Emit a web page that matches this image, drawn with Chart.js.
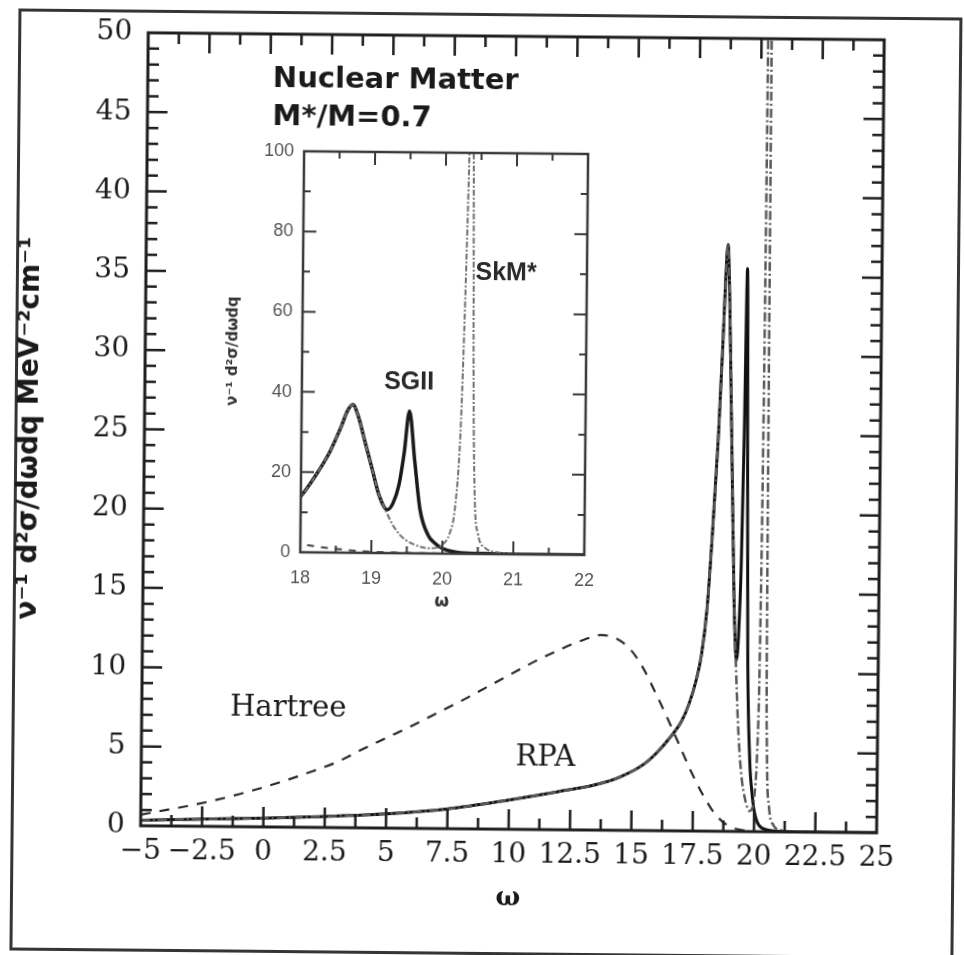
<!DOCTYPE html>
<html>
<head>
<meta charset="utf-8">
<script src="https://cdn.jsdelivr.net/npm/chart.js@4.4.1/dist/chart.umd.min.js"></script>
<style>
  html, body { margin: 0; padding: 0; background: #fff; overflow: hidden; }
  #page { position: relative; width: 964px; height: 955px; transform: rotate(0.55deg); transform-origin: 50% 50%; }
  #frame { position: absolute; left: 14px; top: 13px; width: 944px; height: 942px; border: 3px solid #353535; box-sizing: border-box; }
  #mainChart { position: absolute; left: 0; top: 0; }
  #insetChart { position: absolute; left: 200px; top: 130px; }
</style>
</head>
<body>
<div id="page">
  <div id="frame"></div>
  <canvas id="mainChart" width="964" height="955"></canvas>
  <canvas id="insetChart" width="410" height="490"></canvas>
</div>
<script>
// 데이터: ω 값과 각 곡선의 세기
const omegaSGII = [-5, -2.5, 0, 2.5, 5, 7.5, 10, 12, 13.5, 14.5, 15.5, 16, 16.5, 17, 17.3, 17.6, 17.8, 18, 18.2, 18.4, 18.55, 18.65, 18.72, 18.8, 18.9, 19, 19.1, 19.22, 19.3, 19.38, 19.45, 19.52, 19.6, 19.68, 19.8, 19.9, 20, 20.2, 20.6, 21, 22, 25];
const rpaSGII = [0.35, 0.45, 0.55, 0.7, 0.9, 1.25, 1.85, 2.4, 2.85, 3.35, 4.2, 4.9, 5.8, 6.9, 8.0, 9.6, 11.2, 14, 19, 25, 31, 35.5, 37, 34, 27.5, 21, 14.5, 10.8, 12.5, 17, 25, 35.5, 23, 11, 4.5, 2.5, 1.3, 0.4, 0.1, 0.03, 0, 0];

const omegaSkM = [-5, -2.5, 0, 2.5, 5, 7.5, 10, 12, 13.5, 14.5, 15.5, 16, 16.5, 17, 17.3, 17.6, 17.8, 18, 18.2, 18.4, 18.55, 18.65, 18.72, 18.8, 18.9, 19, 19.1, 19.2, 19.3, 19.4, 19.5, 19.6, 19.7, 19.8, 19.9, 20, 20.1, 20.17, 20.24, 20.29, 20.33, 20.36, 20.39, 20.42, 20.45, 20.5, 20.6, 20.8, 21, 22, 25];
const rpaSkM = [0.35, 0.45, 0.55, 0.7, 0.9, 1.25, 1.85, 2.4, 2.85, 3.35, 4.2, 4.9, 5.8, 6.9, 8.0, 9.6, 11.2, 14, 19, 25, 31, 35.5, 37, 34, 27.5, 21, 14.5, 10.5, 7, 4.6, 3.1, 2.2, 1.6, 1.3, 1.4, 2.2, 5, 11, 30, 64, 100, 130, 100, 40, 14, 5, 1.6, 0.4, 0.15, 0, 0];

const omegaHartree = [-5, -4, -3, -2, -1, 0, 1, 2, 3, 4, 5, 6, 7, 8, 9, 10, 11, 12, 13, 13.7, 14.3, 14.9, 15.4, 15.9, 16.4, 16.9, 17.4, 17.9, 18.4, 18.9, 19.4, 20];
const hartree = [0.7, 1.0, 1.3, 1.65, 2.05, 2.5, 3.0, 3.55, 4.15, 4.95, 5.7, 6.45, 7.25, 8.05, 8.9, 9.75, 10.6, 11.35, 12.0, 12.3, 12.1, 11.4, 10.3, 8.8, 7.2, 5.5, 3.8, 2.3, 1.1, 0.4, 0.12, 0.02];

// 눈금 라벨
const mainXTicks = [-5, -2.5, 0, 2.5, 5, 7.5, 10, 12.5, 15, 17.5, 20, 22.5, 25];
const mainYTicks = [0, 5, 10, 15, 20, 25, 30, 35, 40, 45, 50];
const insetXTicks = [18, 19, 20, 21, 22];
const insetYTicks = [0, 20, 40, 60, 80, 100];

function pts(xs, ys) {
    return xs.map((v, i) => ({ x: v, y: ys[i] }));
}

function fmt(v) {
    return v < 0 ? '\u2212' + Math.abs(v) : String(v);
}

// 안쪽으로 향하는 눈금과 테두리
function eachTick(scale, minor, major, fn) {
    const n = Math.round((scale.max - scale.min) / minor);
    for (let i = 1; i < n; i++) {
        const v = scale.min + i * minor;
        const r = v / major;
        fn(v, Math.abs(r - Math.round(r)) < 1e-6);
    }
}

const inwardTicks = {
    id: 'inwardTicks',
    beforeDatasetsDraw(chart, args, opts) {
        const { ctx, chartArea: a } = chart;
        ctx.save();
        ctx.fillStyle = '#fff';
        ctx.fillRect(a.left, a.top, a.right - a.left, a.bottom - a.top);
        ctx.restore();
    },
    afterDatasetsDraw(chart, args, opts) {
        const { ctx, chartArea: a, scales: { x, y } } = chart;
        ctx.save();
        ctx.strokeStyle = opts.color;
        ctx.lineWidth = opts.tickWidth;
        ctx.beginPath();
        eachTick(x, opts.xMinor, opts.xMajor, (v, major) => {
            const px = x.getPixelForValue(v);
            const len = major ? opts.majorLen : opts.minorLen;
            ctx.moveTo(px, a.bottom);
            ctx.lineTo(px, a.bottom - len);
            ctx.moveTo(px, a.top);
            ctx.lineTo(px, a.top + len);
        });
        eachTick(y, opts.yMinor, opts.yMajor, (v, major) => {
            const py = y.getPixelForValue(v);
            const len = major ? opts.majorLen : opts.minorLen;
            ctx.moveTo(a.left, py);
            ctx.lineTo(a.left + len, py);
            ctx.moveTo(a.right, py);
            ctx.lineTo(a.right - len, py);
        });
        ctx.stroke();
        ctx.lineWidth = opts.frameWidth;
        ctx.strokeRect(a.left, a.top, a.right - a.left, a.bottom - a.top);
        ctx.restore();
    }
};

// 데이터 좌표에 글자 쓰기
function makeLabels(items) {
    return {
        id: 'textLabels',
        afterDraw(chart) {
            const { ctx, scales: { x, y } } = chart;
            ctx.save();
            items.forEach(it => {
                ctx.font = it.font;
                ctx.fillStyle = it.color || '#1a1a1a';
                ctx.textAlign = it.align || 'center';
                ctx.textBaseline = it.baseline || 'middle';
                ctx.fillText(it.text, x.getPixelForValue(it.x), y.getPixelForValue(it.y));
            });
            ctx.restore();
        }
    };
}

function setTicks(list) {
    return scale => { scale.ticks = list.map(v => ({ value: v })); };
}

// 본 그래프
new Chart(document.getElementById('mainChart'), {
    type: 'line',
    data: {
        datasets: [
            { label: 'Hartree', data: pts(omegaHartree, hartree), borderColor: '#2a2a2a', borderWidth: 2.2, borderDash: [10, 9] },
            { label: 'SkM*', data: pts(omegaSkM, rpaSkM), borderColor: '#5a5a5a', borderWidth: 2.5, borderDash: [9, 3, 2, 3] },
            { label: 'SGII', data: pts(omegaSGII, rpaSGII), borderColor: '#111', borderWidth: 3 }
        ]
    },
    options: {
        responsive: false,
        animation: false,
        layout: { padding: { left: 0, top: 36, right: 84, bottom: 0 } },
        elements: { point: { radius: 0 }, line: { cubicInterpolationMode: 'monotone' } },
        plugins: {
            legend: { display: false },
            tooltip: { enabled: false },
            inwardTicks: { color: '#1e1e1e', tickWidth: 2.5, frameWidth: 3, majorLen: 20, minorLen: 11, xMinor: 1.25, xMajor: 2.5, yMinor: 1, yMajor: 5 }
        },
        scales: {
            x: {
                type: 'linear', min: -5, max: 25,
                afterBuildTicks: setTicks(mainXTicks),
                afterFit: s => { s.height = 126; },
                grid: { display: false, drawTicks: false },
                border: { display: false },
                ticks: { font: { family: 'DejaVu Serif', size: 28, lineHeight: 1.2 }, color: '#1a1a1a', padding: 9, maxRotation: 0, autoSkip: false, callback: fmt },
                title: { display: true, text: 'ω', font: { family: 'DejaVu Serif', size: 26, weight: 'bold', lineHeight: 1.2 }, color: '#1a1a1a', padding: 41 }
            },
            y: {
                min: 0, max: 50,
                afterBuildTicks: setTicks(mainYTicks),
                afterFit: s => { s.width = 144; },
                grid: { display: false, drawTicks: false },
                border: { display: false },
                ticks: { font: { family: 'DejaVu Serif', size: 28, lineHeight: 1.2 }, color: '#1a1a1a', padding: 16, autoSkip: false, callback: fmt },
                title: { display: true, text: 'ν⁻¹ d²σ/dωdq MeV⁻²cm⁻¹', font: { family: 'DejaVu Sans', size: 28, weight: 'bold', lineHeight: 1.2 }, color: '#1a1a1a', padding: 13 }
            }
        }
    },
    plugins: [inwardTicks, makeLabels([
        { text: 'Nuclear Matter', x: 0.1, y: 46.66, align: 'left', baseline: 'alphabetic', font: 'bold 29px "DejaVu Sans"' },
        { text: 'M*/M=0.7', x: 0.1, y: 44.26, align: 'left', baseline: 'alphabetic', font: 'bold 29px "DejaVu Sans"' },
        { text: 'Hartree', x: 0.97, y: 7.5, font: '29px "DejaVu Serif"' },
        { text: 'RPA', x: 11.47, y: 4.54, font: '29px "DejaVu Serif"' }
    ])]
});

// 확대 그림 (18 ~ 22)
new Chart(document.getElementById('insetChart'), {
    type: 'line',
    data: {
        datasets: [
            { label: 'Hartree', data: pts(omegaHartree, hartree), borderColor: '#444', borderWidth: 2, borderDash: [7, 7] },
            { label: 'SkM*', data: pts(omegaSkM, rpaSkM), borderColor: '#707070', borderWidth: 2, borderDash: [6, 2, 2, 2] },
            { label: 'SGII', data: pts(omegaSGII, rpaSGII), borderColor: '#1a1a1a', borderWidth: 3.5 }
        ]
    },
    options: {
        responsive: false,
        animation: false,
        layout: { padding: { left: 0, top: 23, right: 17, bottom: 0 } },
        elements: { point: { radius: 0 }, line: { cubicInterpolationMode: 'monotone' } },
        plugins: {
            legend: { display: false },
            tooltip: { enabled: false },
            inwardTicks: { color: '#3a3a3a', tickWidth: 2, frameWidth: 2.5, majorLen: 13, minorLen: 7, xMinor: 0.5, xMajor: 1, yMinor: 10, yMajor: 20 }
        },
        scales: {
            x: {
                type: 'linear', min: 18, max: 22,
                afterBuildTicks: setTicks(insetXTicks),
                afterFit: s => { s.height = 66; },
                grid: { display: false, drawTicks: false },
                border: { display: false },
                ticks: { font: { family: 'Liberation Sans', size: 18, lineHeight: 1.2 }, color: '#555', padding: 15, maxRotation: 0, autoSkip: false },
                title: { display: true, text: 'ω', font: { family: 'DejaVu Sans', size: 17, weight: 'bold', lineHeight: 1.2 }, color: '#333', padding: 7 }
            },
            y: {
                min: 0, max: 100,
                afterBuildTicks: setTicks(insetYTicks),
                afterFit: s => { s.width = 101; },
                grid: { display: false, drawTicks: false },
                border: { display: false },
                ticks: { font: { family: 'Liberation Sans', size: 18, lineHeight: 1.2 }, color: '#555', padding: 10, autoSkip: false },
                title: { display: true, text: 'ν⁻¹ d²σ/dωdq', font: { family: 'DejaVu Sans', size: 15, weight: 'bold', lineHeight: 1.2 }, color: '#333', padding: 23 }
            }
        }
    },
    plugins: [inwardTicks, makeLabels([
        { text: 'SGII', x: 19.51, y: 42.6, font: 'bold 25px "Liberation Sans"', color: '#2a2a2a' },
        { text: 'SkM*', x: 20.86, y: 70.1, font: 'bold 25px "Liberation Sans"', color: '#2a2a2a' }
    ])]
});
</script>
</body>
</html>
